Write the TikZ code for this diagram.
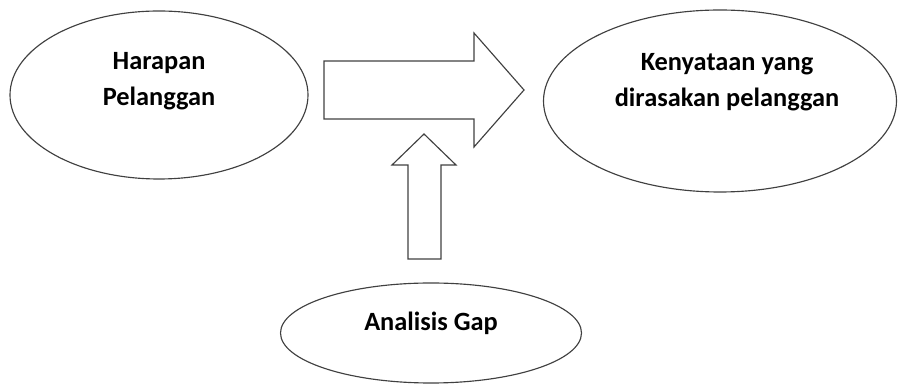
\documentclass[tikz,border=0pt]{standalone}
\usepackage{fontspec}
\setmainfont{Carlito}
\usepackage{tikz}
\usetikzlibrary{shapes.geometric}

\begin{document}
\begin{tikzpicture}[
    oval/.style={draw=black!75, line width=0.65pt, ellipse, inner sep=0pt},
    txt/.style={align=center, font=\fontsize{15}{20.5}\selectfont\bfseries},
    blockarrow/.style={draw=black!75, line width=0.65pt, line join=miter}]
        \useasboundingbox (0,0) rectangle (17.98,7.68);
        \node[oval, minimum width=5.96cm, minimum height=3.36cm] (harapan) at (3.18,5.78) {};
        \node[oval, minimum width=7.06cm, minimum height=3.64cm] (kenyataan) at (14.40,5.66) {};
        \node[oval, minimum width=6.02cm, minimum height=2.0cm] (gap) at (8.62,1.02) {};
        \node[txt] (harapantxt) at ([yshift=0.28cm]harapan.center) {Harapan\\Pelanggan};
        \node[txt] (kenyataantxt) at ([xshift=0.14cm,yshift=0.37cm]kenyataan.center) {Kenyataan yang\\dirasakan pelanggan};
        \node[txt] (gaptxt) at ([yshift=0.20cm]gap.center) {Analisis Gap};
        \draw[blockarrow] (6.48,6.46) -- (9.48,6.46) -- (9.48,7.02) -- (10.48,5.88)
            -- (9.48,4.74) -- (9.48,5.30) -- (6.48,5.30) -- cycle;
        \draw[blockarrow] (8.16,2.50) -- (8.16,4.38) -- (7.84,4.38) -- (8.48,5.00)
            -- (9.12,4.38) -- (8.82,4.38) -- (8.82,2.50) -- cycle;
    \end{tikzpicture}
\end{document}
